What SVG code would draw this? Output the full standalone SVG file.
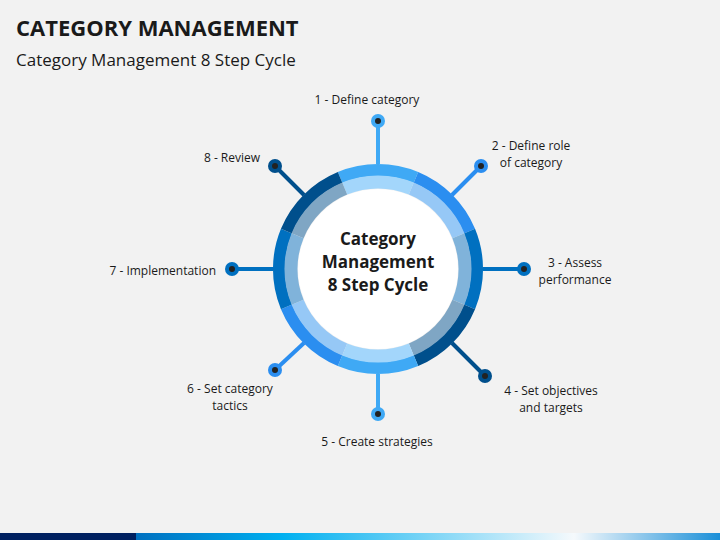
<svg xmlns="http://www.w3.org/2000/svg" width="720" height="540" viewBox="0 0 720 540">
<defs>
<style>
text{font-family:"Open Sans","Liberation Sans",sans-serif;fill:#1a1a1a}
.lbl{font-size:12px}
.sp{stroke-width:4}
</style>
<linearGradient id="bar" x1="0" x2="1">
<stop offset="0" stop-color="#0070c0"/><stop offset="0.25" stop-color="#00b0f0"/><stop offset="0.75" stop-color="#f5f9fc"/><stop offset="1" stop-color="#1a8fd8"/>
</linearGradient>
</defs>
<rect width="720" height="540" fill="#f2f2f2"/>
<text x="16" y="36" style="font-size:22px;font-weight:bold">CATEGORY MANAGEMENT</text>
<text x="16" y="66" style="font-size:17px">Category Management 8 Step Cycle</text>
<g id="connectors">
<line class="sp" x1="378" y1="164" x2="378" y2="121" stroke="#3fa9f5"/>
<line class="sp" x1="452" y1="195" x2="481" y2="166" stroke="#2b8ef0"/>
<line class="sp" x1="483" y1="269" x2="524" y2="269" stroke="#0070c0"/>
<line class="sp" x1="452" y1="343" x2="485" y2="376" stroke="#004f8c"/>
<line class="sp" x1="378" y1="374" x2="378" y2="414" stroke="#3fa9f5"/>
<line class="sp" x1="304" y1="343" x2="275" y2="370" stroke="#2b8ef0"/>
<line class="sp" x1="273" y1="269" x2="232" y2="269" stroke="#0070c0"/>
<line class="sp" x1="304" y1="195" x2="275" y2="166" stroke="#004f8c"/>
</g>
<g id="ring" transform="translate(378,269)" fill="none">
<circle r="80" fill="#ffffff"/>
<g id="outer" stroke-width="12">
<path d="M-37.9,-91.5 A99,99 0 0 1 37.9,-91.5" stroke="#3fa9f5"/>
<path d="M-37.9,-91.5 A99,99 0 0 1 37.9,-91.5" stroke="#2b8ef0" transform="rotate(45)"/>
<path d="M-37.9,-91.5 A99,99 0 0 1 37.9,-91.5" stroke="#0070c0" transform="rotate(90)"/>
<path d="M-37.9,-91.5 A99,99 0 0 1 37.9,-91.5" stroke="#004f8c" transform="rotate(135)"/>
<path d="M-37.9,-91.5 A99,99 0 0 1 37.9,-91.5" stroke="#3fa9f5" transform="rotate(180)"/>
<path d="M-37.9,-91.5 A99,99 0 0 1 37.9,-91.5" stroke="#2b8ef0" transform="rotate(225)"/>
<path d="M-37.9,-91.5 A99,99 0 0 1 37.9,-91.5" stroke="#0070c0" transform="rotate(270)"/>
<path d="M-37.9,-91.5 A99,99 0 0 1 37.9,-91.5" stroke="#004f8c" transform="rotate(315)"/>
</g>
<g id="inner" stroke-width="13">
<path d="M-33.3,-80.4 A87,87 0 0 1 33.3,-80.4" stroke="#a3d6fb"/>
<path d="M-33.3,-80.4 A87,87 0 0 1 33.3,-80.4" stroke="#96c8f6" transform="rotate(45)"/>
<path d="M-33.3,-80.4 A87,87 0 0 1 33.3,-80.4" stroke="#80b3da" transform="rotate(90)"/>
<path d="M-33.3,-80.4 A87,87 0 0 1 33.3,-80.4" stroke="#7fa6c4" transform="rotate(135)"/>
<path d="M-33.3,-80.4 A87,87 0 0 1 33.3,-80.4" stroke="#a3d6fb" transform="rotate(180)"/>
<path d="M-33.3,-80.4 A87,87 0 0 1 33.3,-80.4" stroke="#96c8f6" transform="rotate(225)"/>
<path d="M-33.3,-80.4 A87,87 0 0 1 33.3,-80.4" stroke="#80b3da" transform="rotate(270)"/>
<path d="M-33.3,-80.4 A87,87 0 0 1 33.3,-80.4" stroke="#7fa6c4" transform="rotate(315)"/>
</g>
</g>
<g id="center">
<text x="378" y="245" text-anchor="middle" style="font-size:17px;font-weight:bold">Category</text>
<text x="378" y="268" text-anchor="middle" style="font-size:17px;font-weight:bold">Management</text>
<text x="378" y="291" text-anchor="middle" style="font-size:17px;font-weight:bold">8 Step Cycle</text>
</g>
<g id="step1"><circle cx="378" cy="121" r="7" fill="#3fa9f5"/><circle cx="378" cy="121" r="3" fill="#222"/><text class="lbl" x="367" y="104" text-anchor="middle">1 - Define category</text></g>
<g id="step2"><circle cx="481" cy="166" r="7" fill="#2b8ef0"/><circle cx="481" cy="166" r="3" fill="#222"/><text class="lbl" x="531" y="150" text-anchor="middle">2 - Define role</text><text class="lbl" x="531" y="167" text-anchor="middle">of category</text></g>
<g id="step3"><circle cx="524" cy="269" r="7" fill="#0070c0"/><circle cx="524" cy="269" r="3" fill="#222"/><text class="lbl" x="575" y="267" text-anchor="middle">3 - Assess</text><text class="lbl" x="575" y="284" text-anchor="middle">performance</text></g>
<g id="step4"><circle cx="485" cy="376" r="7" fill="#004f8c"/><circle cx="485" cy="376" r="3" fill="#222"/><text class="lbl" x="551" y="395" text-anchor="middle">4 - Set objectives</text><text class="lbl" x="551" y="412" text-anchor="middle">and targets</text></g>
<g id="step5"><circle cx="378" cy="414" r="7" fill="#3fa9f5"/><circle cx="378" cy="414" r="3" fill="#222"/><text class="lbl" x="377" y="446" text-anchor="middle">5 - Create strategies</text></g>
<g id="step6"><circle cx="275" cy="370" r="7" fill="#2b8ef0"/><circle cx="275" cy="370" r="3" fill="#222"/><text class="lbl" x="230" y="393" text-anchor="middle">6 - Set category</text><text class="lbl" x="230" y="410" text-anchor="middle">tactics</text></g>
<g id="step7"><circle cx="232" cy="269" r="7" fill="#0070c0"/><circle cx="232" cy="269" r="3" fill="#222"/><text class="lbl" x="216" y="275" text-anchor="end">7 - Implementation</text></g>
<g id="step8"><circle cx="275" cy="166" r="7" fill="#004f8c"/><circle cx="275" cy="166" r="3" fill="#222"/><text class="lbl" x="232" y="162" text-anchor="middle">8 - Review</text></g>
<rect x="0" y="533" width="136" height="7" fill="#002060"/>
<rect x="136" y="533" width="584" height="7" fill="url(#bar)"/>
</svg>
